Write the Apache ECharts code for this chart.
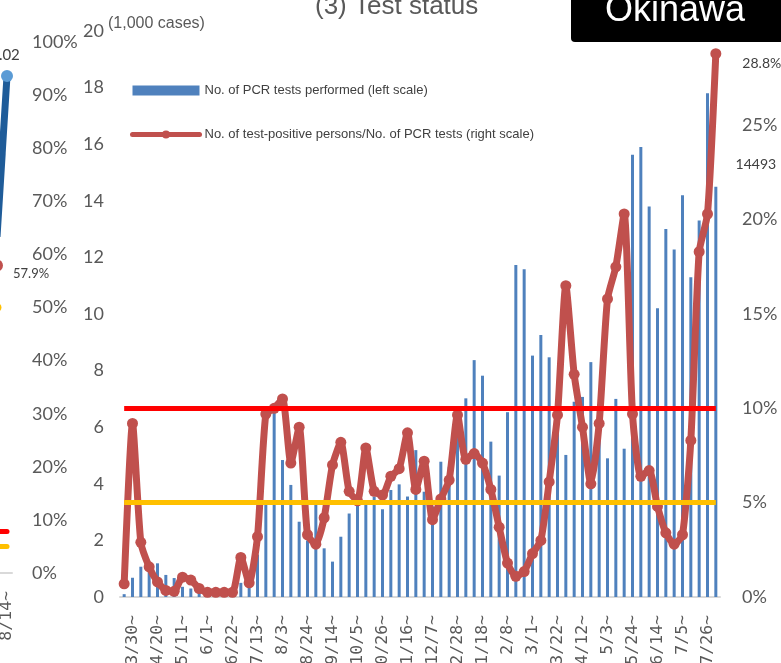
<!DOCTYPE html>
<html>
<head>
<meta charset="utf-8">
<script src="https://cdn.jsdelivr.net/npm/echarts@6/dist/echarts.min.js"></script>
<style>
  html, body { margin: 0; padding: 0; background: #fff; }
  #chart { width: 781px; height: 663px; }
</style>
</head>
<body>
<div id="chart"></div>
<script>
// Weekly periods (week starting date)
const categories = [
  '3/23~','3/30~','4/6~','4/13~','4/20~','4/27~','5/4~','5/11~','5/18~','5/25~',
  '6/1~','6/8~','6/15~','6/22~','6/29~','7/6~','7/13~','7/20~','7/27~','8/3~',
  '8/10~','8/17~','8/24~','8/31~','9/7~','9/14~','9/21~','9/28~','10/5~','10/12~',
  '10/19~','10/26~','11/2~','11/9~','11/16~','11/23~','11/30~','12/7~','12/14~','12/21~',
  '12/28~','1/4~','1/11~','1/18~','1/25~','2/1~','2/8~','2/15~','2/22~','3/1~',
  '3/8~','3/15~','3/22~','3/29~','4/5~','4/12~','4/19~','4/26~','5/3~','5/10~',
  '5/17~','5/24~','5/31~','6/7~','6/14~','6/21~','6/28~','7/5~','7/12~','7/19~',
  '7/26~','8/2~'
];

// No. of PCR tests performed (1,000 cases)
const pcrTests = [
  0.1, 0.68, 1.07, 1.0, 1.19, 0.78, 0.67, 0.36, 0.3, 0.25,
  0.2, 0.2, 0.25, 0.3, 0.5, 0.7, 1.5, 3.25, 6.55, 4.84,
  3.96, 2.66, 2.0, 3.4, 1.72, 1.25, 2.13, 2.95, 3.37, 3.3,
  3.55, 3.1, 3.78, 3.98, 3.55, 5.19, 3.72, 3.2, 4.78, 4.6,
  5.9, 7.02, 8.37, 7.82, 5.49, 4.29, 6.53, 11.73, 11.58, 8.53,
  9.26, 8.47, 6.5, 5.02, 6.9, 7.07, 8.3, 6.0, 4.9, 7.0,
  5.24, 15.63, 15.9, 13.8, 10.2, 13.0, 12.28, 14.2, 11.3, 13.3,
  17.8, 14.493
];

// Test-positive persons / PCR tests (%)
const positiveRate = [
  0.7, 9.2, 2.9, 1.6, 0.8, 0.35, 0.3, 1.05, 0.9, 0.45,
  0.25, 0.25, 0.25, 0.25, 2.1, 0.75, 3.2, 9.7, 10.0, 10.5,
  7.1, 9.0, 3.3, 2.8, 4.2, 7.0, 8.2, 5.6, 5.1, 7.9,
  5.6, 5.4, 6.4, 6.8, 8.7, 5.7, 7.2, 4.1, 5.2, 6.2,
  9.65, 7.3, 7.6, 7.1, 5.7, 3.7, 1.8, 1.1, 1.35, 2.3,
  3.0, 6.1, 9.65, 16.5, 11.8, 9.0, 6.0, 9.2, 15.8, 17.5,
  20.3, 9.7, 6.4, 6.7, 4.8, 3.4, 2.8, 3.3, 8.3, 18.3,
  20.3, 28.8
];

// Positivity thresholds (%)
const stage4Rate = 10;
const stage3Rate = 5;

// Neighbouring panel (only its right edge is in view)
const prevCategories = ['8/7~', '8/14~'];
const prevRatio = [0.69, 1.02];
const prevRate = [57.9, null];
const prevStageRate = [50, null];
const prevUpperLine = 7.8;
const prevLowerLine = 5.1;

const nameTests = 'No. of PCR tests performed (left scale)';
const nameRate = 'No. of test-positive persons/No. of PCR tests (right scale)';

const axisFont = 'Lato, "Noto Sans", sans-serif';
const dateFont = '"DejaVu Sans Mono", monospace';
const textFont = '"Liberation Sans", Arial, sans-serif';
const last = categories.length - 1;

const chart = echarts.init(document.getElementById('chart'), null, { renderer: 'canvas' });

const dateLabel = {
  rotate: 90, fontSize: 16.5, color: '#595959', margin: 18, fontFamily: dateFont
};

const option = {
  animation: false,
  textStyle: { fontFamily: textFont },
  grid: [
    { left: 120, top: 31, width: 600, height: 566, outerBoundsMode: 'none' },
    { left: -8, top: 42, width: 20, height: 531, outerBoundsMode: 'none' }
  ],
  legend: {
    orient: 'vertical',
    left: 125,
    top: 79,
    itemWidth: 67,
    itemHeight: 10,
    itemGap: 31,
    textStyle: { fontSize: 13, color: '#404040', fontFamily: textFont },
    data: [
      { name: nameTests, icon: 'rect' },
      { name: nameRate, lineStyle: { width: 5, color: '#C0504D' }, itemStyle: { color: '#C0504D' } }
    ]
  },
  xAxis: [
    {
      type: 'category', gridIndex: 0, data: categories, boundaryGap: true,
      axisLine: { lineStyle: { color: '#D9D9D9', width: 2 } },
      axisTick: { show: false },
      axisLabel: Object.assign({ interval: (i) => i % 3 === 1 }, dateLabel)
    },
    {
      type: 'category', gridIndex: 1, data: prevCategories, boundaryGap: true,
      axisLine: { lineStyle: { color: '#D9D9D9', width: 2 } },
      axisTick: { show: false },
      axisLabel: Object.assign({ interval: (i) => i === prevCategories.length - 1 }, dateLabel)
    }
  ],
  yAxis: [
    {
      type: 'value', gridIndex: 0, min: 0, max: 20, interval: 2, position: 'left',
      axisLine: { show: false }, axisTick: { show: false }, splitLine: { show: false },
      axisLabel: { fontSize: 18, color: '#595959', margin: 16, fontFamily: axisFont }
    },
    {
      type: 'value', gridIndex: 0, min: 0, max: 30, interval: 5, position: 'right',
      axisLine: { show: false }, axisTick: { show: false }, splitLine: { show: false },
      axisLabel: {
        fontSize: 18, color: '#595959', margin: 22, fontFamily: axisFont,
        formatter: (v) => (v >= 30 ? '' : v + '%')
      }
    },
    {
      type: 'value', gridIndex: 1, min: 0, max: 100, interval: 10, position: 'right',
      axisLine: { show: false }, axisTick: { show: false }, splitLine: { show: false },
      axisLabel: { fontSize: 18, color: '#595959', margin: 20, fontFamily: axisFont, formatter: '{value}%' }
    },
    { type: 'value', gridIndex: 1, min: 0, max: 1.09, show: false }
  ],
  series: [
    {
      name: nameTests, type: 'bar', xAxisIndex: 0, yAxisIndex: 0,
      barWidth: 3, z: 2,
      itemStyle: { color: '#4F81BD' },
      data: pcrTests.map((v, i) => i === last ? {
        value: v,
        label: {
          show: true, position: 'top', offset: [40, -10],
          fontSize: 14, color: '#404040', fontFamily: axisFont,
          formatter: (p) => String(Math.round(p.value * 1000))
        }
      } : v)
    },
    {
      name: nameRate, type: 'line', xAxisIndex: 0, yAxisIndex: 1,
      smooth: 0.2, z: 3,
      symbol: 'circle', symbolSize: 11, showAllSymbol: true,
      lineStyle: { width: 7, color: '#C0504D', cap: 'round', join: 'round' },
      itemStyle: { color: '#C0504D' },
      data: positiveRate.map((v, i) => i === last ? {
        value: v,
        label: {
          show: true, position: 'right', offset: [16, 10],
          fontSize: 14, color: '#404040', fontFamily: axisFont,
          formatter: (p) => p.value + '%'
        }
      } : v)
    },
    {
      name: 'thresholds', type: 'line', xAxisIndex: 0, yAxisIndex: 1, data: [], z: 5,
      markLine: {
        silent: true, symbol: 'none', label: { show: false },
        data: [
          [{ coord: [categories[0], stage4Rate], lineStyle: { color: '#FF0000', width: 5, type: 'solid' } },
           { coord: [categories[last], stage4Rate] }],
          [{ coord: [categories[0], stage3Rate], lineStyle: { color: '#FFC000', width: 5, type: 'solid' } },
           { coord: [categories[last], stage3Rate] }]
        ]
      }
    },
    // neighbouring panel
    {
      name: 'prevRatio', type: 'line', xAxisIndex: 1, yAxisIndex: 3,
      symbol: 'circle', symbolSize: 0, showAllSymbol: true,
      lineStyle: { width: 7, color: '#1F5C99' },
      itemStyle: { color: '#5B9BD5' },
      data: prevRatio.map((v, i) => i === prevRatio.length - 1 ? {
        value: v, symbolSize: 12,
        label: {
          show: true, position: 'top', offset: [-2, -2],
          fontSize: 15, color: '#404040', fontFamily: axisFont,
          formatter: (p) => p.value.toFixed(2)
        }
      } : v)
    },
    {
      name: 'prevRate', type: 'line', xAxisIndex: 1, yAxisIndex: 2,
      symbol: 'circle', symbolSize: 12, showAllSymbol: true,
      lineStyle: { width: 6, color: '#C0504D' },
      itemStyle: { color: '#C0504D' },
      label: {
        show: true, position: 'right', offset: [5, 8],
        fontSize: 13, color: '#404040', fontFamily: axisFont,
        formatter: (p) => p.value + '%'
      },
      data: prevRate
    },
    {
      name: 'prevStage', type: 'line', xAxisIndex: 1, yAxisIndex: 2,
      symbol: 'circle', symbolSize: 9, showAllSymbol: true,
      lineStyle: { width: 5, color: '#FFC000' },
      itemStyle: { color: '#FFC000' },
      data: prevStageRate
    },
    {
      name: 'prevLines', type: 'line', xAxisIndex: 1, yAxisIndex: 2, data: [], z: 5,
      markLine: {
        silent: true, symbol: 'none', label: { show: false },
        data: [
          [{ coord: [prevCategories[0], prevUpperLine], lineStyle: { color: '#FF0000', width: 5, type: 'solid', cap: 'round' } },
           { coord: [prevCategories[1], prevUpperLine] }],
          [{ coord: [prevCategories[0], prevLowerLine], lineStyle: { color: '#FFC000', width: 5, type: 'solid', cap: 'round' } },
           { coord: [prevCategories[1], prevLowerLine] }]
        ]
      }
    }
  ],
  graphic: [
    {
      type: 'text', left: 315, top: -6,
      style: { text: '(3) Test status', font: '26px ' + textFont, fill: '#595959' }
    },
    {
      type: 'rect', shape: { x: 571, y: -10, width: 230, height: 52, r: [0, 0, 0, 4] },
      style: { fill: '#000000' }
    },
    {
      type: 'text', left: 605, top: -7,
      style: { text: 'Okinawa', font: '36px ' + textFont, fill: '#ffffff' }
    },
    {
      type: 'text', left: 108, top: 16,
      style: { text: '(1,000 cases)', font: '16px ' + textFont, fill: '#595959' }
    }
  ]
};

chart.setOption(option);
</script>
</body>
</html>
